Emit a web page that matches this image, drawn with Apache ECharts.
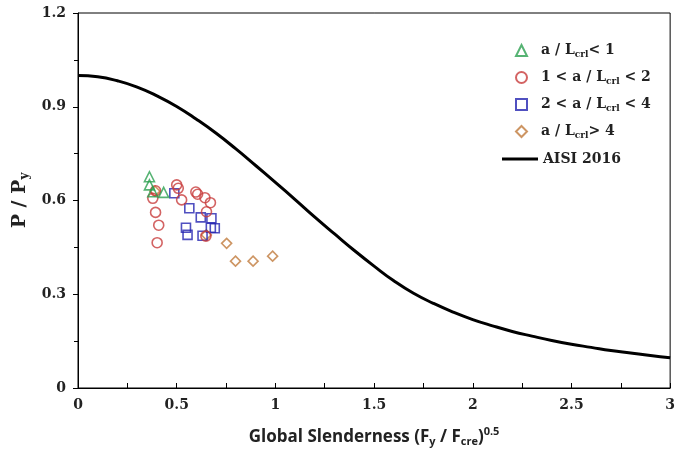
<!DOCTYPE html>
<html>
<head>
<meta charset="utf-8">
<script src="https://cdn.jsdelivr.net/npm/echarts@6/dist/echarts.min.js"></script>
<style>
  html, body { margin: 0; padding: 0; background: #fff; }
  #chart { width: 678px; height: 457px; }
</style>
</head>
<body>
<div id="chart"></div>
<script>
// test points: [slenderness, P/Py]
var groupLt1 = [[0.362, 0.676], [0.362, 0.650], [0.379, 0.628], [0.434, 0.626]];
var group1to2 = [
    [0.393, 0.631], [0.379, 0.607], [0.393, 0.562], [0.409, 0.521], [0.401, 0.465],
    [0.500, 0.650], [0.508, 0.639], [0.525, 0.602], [0.597, 0.627], [0.606, 0.620],
    [0.643, 0.609], [0.671, 0.593], [0.651, 0.564], [0.648, 0.486]
];
var group2to4 = [
    [0.488, 0.623], [0.564, 0.575], [0.622, 0.546], [0.676, 0.543], [0.547, 0.513],
    [0.555, 0.490], [0.693, 0.511], [0.631, 0.487], [0.673, 0.513]
];
var groupGt4 = [[0.390, 0.630], [0.650, 0.490], [0.753, 0.463], [0.798, 0.406], [0.887, 0.406], [0.986, 0.422]];

// AISI 2016 column curve, read at 0.1 steps
var aisiX = [0, 0.1, 0.2, 0.3, 0.4, 0.5, 0.6, 0.7, 0.8, 0.9, 1.0, 1.1, 1.2, 1.3, 1.4, 1.5,
    1.6, 1.7, 1.8, 1.9, 2.0, 2.1, 2.2, 2.3, 2.4, 2.5, 2.6, 2.7, 2.8, 2.9, 3.0];
var aisiY = [1.000, 0.996, 0.983, 0.963, 0.935, 0.901, 0.860, 0.815, 0.765, 0.712, 0.658,
    0.603, 0.547, 0.493, 0.440, 0.390, 0.343, 0.303, 0.271, 0.243, 0.219, 0.199, 0.181,
    0.166, 0.152, 0.140, 0.130, 0.120, 0.112, 0.104, 0.097];

var legendText = {
    'lt1': '{g|}{n|a / L}{s|crl}{n|< 1}',
    '1to2': '{g|}{n|1 < a / L}{s|crl}{n| < 2}',
    '2to4': '{g|}{n|2 < a / L}{s|crl}{n| < 4}',
    'gt4': '{g|}{n|a / L}{s|crl}{n|> 4}',
    'AISI 2016': '{n|AISI 2016}'
};

var serif = '"DejaVu Serif", "Liberation Serif", serif';
var legendRich = {
    g: { width: 9 },
    n: { fontFamily: serif, fontWeight: 'bold', fontSize: 14, color: '#222', lineHeight: 18 },
    s: { fontFamily: serif, fontWeight: 'bold', fontSize: 9, color: '#222', lineHeight: 18, padding: [8, 0, 0, 0] }
};

function hollow(color) {
    return { color: 'rgba(0,0,0,0)', borderColor: color, borderWidth: 1.6 };
}

var chart = echarts.init(document.getElementById('chart'));
chart.setOption({
    animation: false,
    grid: { left: 78, right: 4, top: 13, bottom: 69, show: true, borderColor: '#000', borderWidth: 1 },
    legend: [
        {
            orient: 'vertical',
            left: 510,
            top: 37,
            itemWidth: 11,
            itemHeight: 11,
            itemGap: 10,
            data: ['lt1', '1to2', '2to4', 'gt4'],
            formatter: function (name) { return legendText[name]; },
            textStyle: { rich: legendRich }
        },
        {
            orient: 'vertical',
            left: 497,
            top: 147,
            itemWidth: 36,
            itemHeight: 3,
            icon: 'rect',
            data: ['AISI 2016'],
            formatter: function (name) { return legendText[name]; },
            textStyle: { rich: legendRich }
        }
    ],
    xAxis: {
        type: 'value',
        min: 0, max: 3, interval: 0.5,
        name: '{t|Global Slenderness (F}{s|y}{t| / F}{s|cre}{t|)}{p|0.5}',
        nameLocation: 'middle',
        nameGap: 38,
        nameTextStyle: {
            rich: {
                t: { fontFamily: '"Open Sans", "Liberation Sans", sans-serif', fontWeight: 'bold', fontSize: 17, color: '#222', lineHeight: 22 },
                s: { fontFamily: '"Open Sans", "Liberation Sans", sans-serif', fontWeight: 'bold', fontSize: 11, color: '#222', lineHeight: 22, padding: [10, 0, 0, 0] },
                p: { fontFamily: '"Open Sans", "Liberation Sans", sans-serif', fontWeight: 'bold', fontSize: 11, color: '#222', lineHeight: 22, padding: [0, 0, 10, 0] }
            }
        },
        axisLine: { lineStyle: { color: '#000', width: 1 } },
        axisTick: { inside: true, length: 5, lineStyle: { color: '#000' } },
        minorTick: { show: true, splitNumber: 2, length: 5, lineStyle: { color: '#000' } },
        splitLine: { show: false },
        axisLabel: {
            fontFamily: serif, fontWeight: 'bold', fontSize: 14, color: '#222', margin: 10,
            formatter: function (v) { return String(v); }
        }
    },
    yAxis: {
        type: 'value',
        min: 0, max: 1.2, interval: 0.3,
        name: '{t|P / P}{s|y}',
        nameLocation: 'middle',
        nameGap: 35,
        nameTextStyle: {
            rich: {
                t: { fontFamily: serif, fontWeight: 'bold', fontSize: 19, color: '#222', lineHeight: 24 },
                s: { fontFamily: serif, fontWeight: 'bold', fontSize: 12, color: '#222', lineHeight: 24, padding: [10, 0, 0, 0] }
            }
        },
        axisLine: { show: true, lineStyle: { color: '#000', width: 1 } },
        axisTick: { show: true, length: 5, lineStyle: { color: '#000' } },
        minorTick: { show: true, splitNumber: 2, length: 4, lineStyle: { color: '#000' } },
        splitLine: { show: false },
        axisLabel: {
            fontFamily: serif, fontWeight: 'bold', fontSize: 14, color: '#222', margin: 12,
            formatter: function (v) { return v === 0 ? '0' : v.toFixed(1); }
        }
    },
    series: [
        {
            name: 'AISI 2016', type: 'line', smooth: true, symbol: 'none',
            lineStyle: { color: '#000', width: 3 },
            itemStyle: { color: '#000' },
            data: aisiX.map(function (x, i) { return [x, aisiY[i]]; }),
            z: 1
        },
        {
            name: 'gt4', type: 'scatter', symbol: 'diamond', symbolSize: 10,
            itemStyle: hollow('#c07a3c'), data: groupGt4
        },
        {
            name: '2to4', type: 'scatter', symbol: 'rect', symbolSize: 9,
            itemStyle: hollow('#2424b0'), data: group2to4
        },
        {
            name: '1to2', type: 'scatter', symbol: 'circle', symbolSize: 10,
            itemStyle: hollow('#c83c3c'), data: group1to2
        },
        {
            name: 'lt1', type: 'scatter', symbol: 'triangle', symbolSize: 10,
            itemStyle: hollow('#2ca050'), data: groupLt1
        }
    ]
});
</script>
</body>
</html>
